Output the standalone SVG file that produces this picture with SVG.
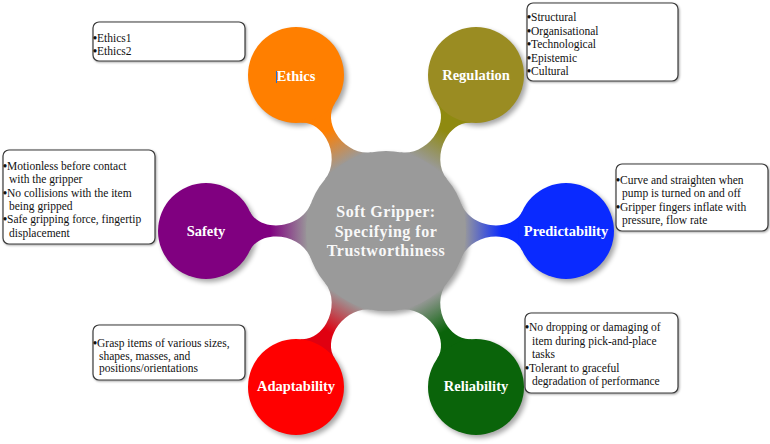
<svg xmlns="http://www.w3.org/2000/svg" width="770" height="444" viewBox="0 0 770 444">
<style>
.lbl{font-family:"Liberation Serif","Times New Roman",serif;font-weight:bold;font-size:14.5px;fill:#ffffff;text-anchor:middle}
.ctr{font-family:"Liberation Serif","Times New Roman",serif;font-weight:bold;font-size:16px;fill:#f8f8f8;text-anchor:middle;letter-spacing:0.5px}
.box{fill:#ffffff;stroke:#3a3a3a;stroke-width:1.2}
.txt{font-family:"Liberation Serif","Times New Roman",serif;font-size:11.5px;fill:#111111}
.b{font-weight:bold}
</style>
<defs>
<filter id="blur" x="-20%" y="-20%" width="140%" height="140%"><feGaussianBlur stdDeviation="2.5"/></filter>
<filter id="bshadow" x="-5%" y="-10%" width="110%" height="120%"><feDropShadow dx="1" dy="1" stdDeviation="0.8" flood-color="#000" flood-opacity="0.35"/></filter>
<linearGradient id="gOrange" gradientUnits="userSpaceOnUse" x1="78" y1="0" x2="116" y2="0"><stop offset="0" stop-color="#9a9a9a"/><stop offset="1" stop-color="#ff7f00"/></linearGradient>
<linearGradient id="gOlive" gradientUnits="userSpaceOnUse" x1="78" y1="0" x2="116" y2="0"><stop offset="0" stop-color="#9a9a9a"/><stop offset="1" stop-color="#8f8a10"/></linearGradient>
<linearGradient id="gPurple" gradientUnits="userSpaceOnUse" x1="78" y1="0" x2="116" y2="0"><stop offset="0" stop-color="#9a9a9a"/><stop offset="1" stop-color="#800080"/></linearGradient>
<linearGradient id="gBlue" gradientUnits="userSpaceOnUse" x1="78" y1="0" x2="116" y2="0"><stop offset="0" stop-color="#9a9a9a"/><stop offset="1" stop-color="#0a2aff"/></linearGradient>
<linearGradient id="gRed" gradientUnits="userSpaceOnUse" x1="78" y1="0" x2="116" y2="0"><stop offset="0" stop-color="#9a9a9a"/><stop offset="1" stop-color="#e00010"/></linearGradient>
<linearGradient id="gGreen" gradientUnits="userSpaceOnUse" x1="78" y1="0" x2="116" y2="0"><stop offset="0" stop-color="#9a9a9a"/><stop offset="1" stop-color="#0a640a"/></linearGradient>
<path id="neck" d="M75.2,27.4 C80,14 95,5.5 110,5.5 C120,5.5 131.5,9.3 136.5,20.3 L136.5,-20.3 C131.5,-9.3 120,-5.5 110,-5.5 C95,-5.5 80,-14 75.2,-27.4 Z"/>
</defs>

<g id="shadows" fill="#000" opacity="0.35" filter="url(#blur)">
<circle cx="389" cy="234" r="80"/>
<circle cx="299" cy="78" r="48"/>
<circle cx="479" cy="78" r="48"/>
<circle cx="209" cy="234" r="48"/>
<circle cx="569" cy="234" r="48"/>
<circle cx="299" cy="390" r="48"/>
<circle cx="479" cy="390" r="48"/>
</g>

<g id="connectors">
<use href="#neck" fill="url(#gOrange)" transform="translate(386 231) rotate(-120)"/>
<use href="#neck" fill="url(#gOlive)" transform="translate(386 231) rotate(-60)"/>
<use href="#neck" fill="url(#gPurple)" transform="translate(386 231) rotate(180)"/>
<use href="#neck" fill="url(#gBlue)" transform="translate(386 231) rotate(0)"/>
<use href="#neck" fill="url(#gRed)" transform="translate(386 231) rotate(120)"/>
<use href="#neck" fill="url(#gGreen)" transform="translate(386 231) rotate(60)"/>
</g>

<g id="center">
<circle cx="386" cy="231" r="80" fill="#9a9a9a"/>
<text class="ctr" x="386" y="217">Soft Gripper:</text>
<text class="ctr" x="386" y="236.5">Specifying for</text>
<text class="ctr" x="386" y="256">Trustworthiness</text>
</g>

<g id="ethics">
<circle cx="296" cy="75" r="48" fill="#ff7f00"/>
<text class="lbl" x="296" y="81">Ethics</text>
<line x1="276.5" y1="71" x2="276.5" y2="83" stroke="#1a6fd8" stroke-width="1"/>
<rect class="box" x="93" y="22" width="152" height="39" rx="6" filter="url(#bshadow)"/>
<text class="txt" x="93" y="41.5"><tspan class="b">•</tspan>Ethics1</text>
<text class="txt" x="93" y="55"><tspan class="b">•</tspan>Ethics2</text>
</g>

<g id="regulation">
<circle cx="476" cy="75" r="48" fill="#9a8c22"/>
<text class="lbl" x="476" y="79.5">Regulation</text>
<rect class="box" x="527" y="3" width="151" height="78" rx="6" filter="url(#bshadow)"/>
<text class="txt" x="527" y="21"><tspan class="b">•</tspan>Structural</text>
<text class="txt" x="527" y="34.5"><tspan class="b">•</tspan>Organisational</text>
<text class="txt" x="527" y="48"><tspan class="b">•</tspan>Technological</text>
<text class="txt" x="527" y="61.5"><tspan class="b">•</tspan>Epistemic</text>
<text class="txt" x="527" y="75"><tspan class="b">•</tspan>Cultural</text>
</g>

<g id="safety">
<circle cx="206" cy="231" r="48" fill="#800080"/>
<text class="lbl" x="206" y="235.5">Safety</text>
<rect class="box" x="3" y="150" width="152" height="94" rx="6" filter="url(#bshadow)"/>
<text class="txt" x="3" y="170"><tspan class="b">•</tspan>Motionless before contact</text>
<text class="txt" x="9" y="183.3">with the gripper</text>
<text class="txt" x="3" y="196.6"><tspan class="b">•</tspan>No collisions with the item</text>
<text class="txt" x="9" y="209.9">being gripped</text>
<text class="txt" x="3" y="223.2"><tspan class="b">•</tspan>Safe gripping force, fingertip</text>
<text class="txt" x="9" y="236.5">displacement</text>
</g>

<g id="predictability">
<circle cx="566" cy="231" r="48" fill="#0a2aff"/>
<text class="lbl" x="566" y="235.5">Predictability</text>
<rect class="box" x="616" y="164" width="152" height="67" rx="6" filter="url(#bshadow)"/>
<text class="txt" x="616" y="184"><tspan class="b">•</tspan>Curve and straighten when</text>
<text class="txt" x="622" y="197.3">pump is turned on and off</text>
<text class="txt" x="616" y="210.6"><tspan class="b">•</tspan>Gripper fingers inflate with</text>
<text class="txt" x="622" y="223.9">pressure, flow rate</text>
</g>

<g id="adaptability">
<circle cx="296" cy="387" r="48" fill="#ff0000"/>
<text class="lbl" x="296" y="391">Adaptability</text>
<rect class="box" x="93" y="325" width="152" height="55" rx="6" filter="url(#bshadow)"/>
<text class="txt" x="93" y="347"><tspan class="b">•</tspan>Grasp items of various sizes,</text>
<text class="txt" x="99" y="359.5">shapes, masses, and</text>
<text class="txt" x="99" y="372">positions/orientations</text>
</g>

<g id="reliability">
<circle cx="476" cy="387" r="48" fill="#0a640a"/>
<text class="lbl" x="476" y="391">Reliability</text>
<rect class="box" x="525" y="313" width="153" height="80" rx="6" filter="url(#bshadow)"/>
<text class="txt" x="525" y="331"><tspan class="b">•</tspan>No dropping or damaging of</text>
<text class="txt" x="532" y="344.5">item during pick-and-place</text>
<text class="txt" x="532" y="358">tasks</text>
<text class="txt" x="525" y="371.5"><tspan class="b">•</tspan>Tolerant to graceful</text>
<text class="txt" x="532" y="385">degradation of performance</text>
</g>
</svg>
